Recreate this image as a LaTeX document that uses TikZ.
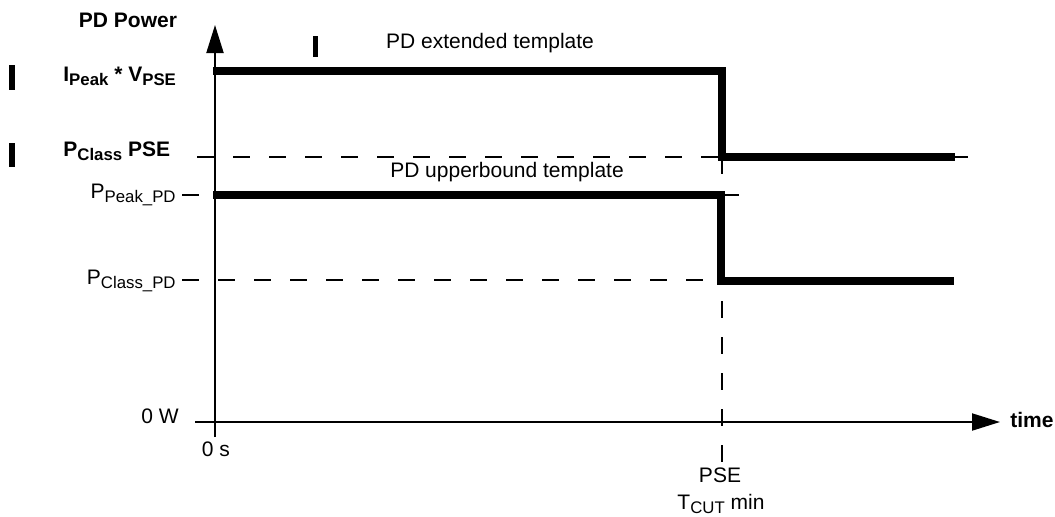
\documentclass[tikz,border=0pt]{standalone}
\usepackage{fontspec}
\setmainfont{Liberation Sans}
\usetikzlibrary{arrows.meta}
\newcommand{\lowsub}[1]{\raisebox{-2.3pt}{\fontsize{8.4}{10}\selectfont #1}}
\tikzset{
  axis/.style={line width=1pt, -{Triangle[length=14pt,width=8.5pt]}},
  template/.style={line width=4pt, line join=miter},
  guide/.style={line width=0.65pt, dash pattern=on 8.5pt off 9.5pt},
  lbl/.style={font=\fontsize{10.5}{12}\selectfont, inner sep=0pt},
  boldlbl/.style={font=\fontsize{10.5}{12}\selectfont\bfseries, inner sep=0pt},
  changebar/.style={fill=black},
}
\begin{document}
\begin{tikzpicture}[x=0.5pt,y=-0.5pt]
\useasboundingbox (0,0) rectangle (1055,516);
% change bars
\fill[changebar] (9,65) rectangle (15,90);
\fill[changebar] (9,143) rectangle (15,167);
\fill[changebar] (313,36) rectangle (318,57);
% key points
\coordinate (origin) at (215,422);
\coordinate (cut) at (722,157);
% dashed guides
\draw[guide] (197,157) -- (968,157);
\draw[guide] (182,195) -- (752,195);
\draw[guide] (182,280) -- (721,280);
\draw[guide] (cut) -- (722,463);
% axes
\draw[axis] (195,422) -- (1000,422);
\draw[axis] (215,437) -- (215,25);
% templates
\draw[template] (213,71) -- (722,71) -- (cut) -- (955,157);
\draw[template] (213,195) -- (721,195) -- (721,281) -- (954,281);
% labels
\node[boldlbl] (ylabel) at (128,20) {PD Power};
\node[boldlbl, anchor=base west] (ipeak) at (63,81) {I\lowsub{Peak} * V\lowsub{PSE}};
\node[boldlbl, anchor=base west] (pclasspse) at (63,156) {P\lowsub{Class} PSE};
\node[lbl, anchor=base east] (ppeak) at (176,198) {P\lowsub{Peak\_PD}};
\node[lbl, anchor=base east] (pclasspd) at (176,284) {P\lowsub{Class\_PD}};
\node[lbl, anchor=base east] (zerow) at (179,423) {0 W};
\node[lbl, anchor=base] (zeros) at (216,456) {0 s};
\node[boldlbl, anchor=base west] (xlabel) at (1010,427) {time};
\node[lbl, anchor=base] (pse) at (720,482) {PSE};
\node[lbl, anchor=base] (tcut) at (721,509) {T\lowsub{CUT} min};
\node[lbl] (extended) at (490,43) {PD extended template};
\node[lbl] (upper) at (507,172) {PD upperbound template};
\end{tikzpicture}
\end{document}
